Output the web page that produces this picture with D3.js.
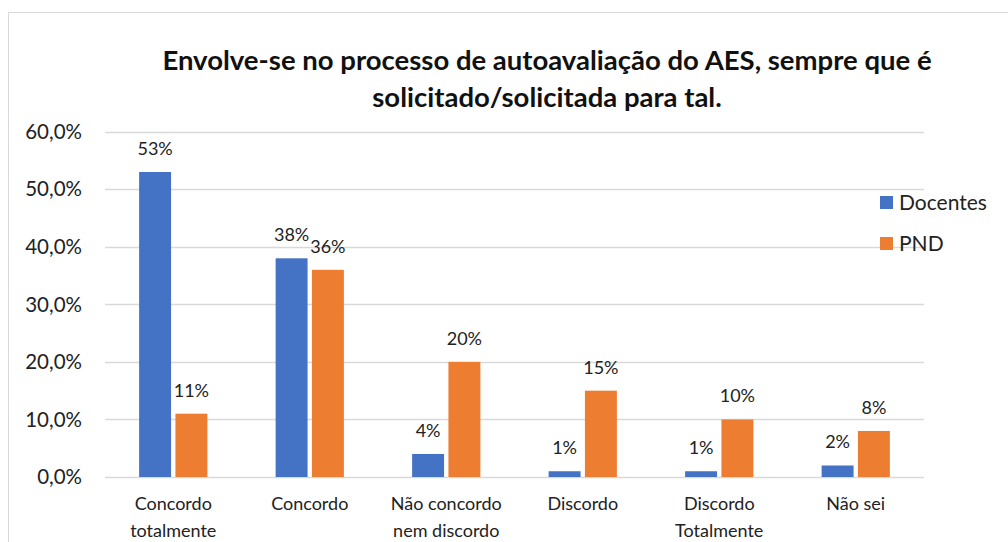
<!DOCTYPE html>
<html>
<head>
<meta charset="utf-8">
<script src="https://cdn.jsdelivr.net/npm/d3@7"></script>
<style>
  body { margin: 0; background: #fff; }
  svg { font-family: Lato, "Open Sans", sans-serif; }
</style>
</head>
<body>
<div id="chart"></div>
<script>
const categories = [
    ['Concordo', 'totalmente'],
    ['Concordo'],
    ['Não concordo', 'nem discordo'],
    ['Discordo'],
    ['Discordo', 'Totalmente'],
    ['Não sei']
]
const seriesNames = ['Docentes', 'PND']
const docentes = [53, 38, 4, 1, 1, 2]
const pnd = [11, 36, 20, 15, 10, 8]
const yTicks = [0, 10, 20, 30, 40, 50, 60]
const colors = ['#4472C4', '#ED7D31']

const width = 1008
const height = 542
const margin = { left: 105, right: 84, top: 131.7, bottom: 65 }

const svg = d3.select('#chart')
    .append('svg')
    .attr('width', width)
    .attr('height', height)

// chart frame
svg.append('rect')
    .attr('x', 8.5).attr('y', 12.5)
    .attr('width', 1100).attr('height', 600)
    .attr('fill', '#fff')
    .attr('stroke', '#d9d9d9')

const x = d3.scaleBand()
    .domain(d3.range(categories.length))
    .range([margin.left, width - margin.right])
    .paddingInner(0.5).paddingOuter(0.25)

const x1 = d3.scaleBand()
    .domain(seriesNames)
    .range([0, x.bandwidth()])
    .paddingInner(0.12)

const y = d3.scaleLinear()
    .domain([0, 60])
    .range([height - margin.bottom, margin.top])

// gridlines
svg.append('g')
    .selectAll('line')
    .data(yTicks)
    .enter()
    .append('line')
    .attr('x1', margin.left)
    .attr('x2', width - margin.right)
    .attr('y1', d => Math.round(y(d)) + 0.5)
    .attr('y2', d => Math.round(y(d)) + 0.5)
    .style('stroke', '#d9d9d9')
    .style('stroke-width', 1.5)

// y tick labels
svg.append('g')
    .selectAll('text')
    .data(yTicks)
    .enter()
    .append('text')
    .attr('x', 82)
    .attr('y', d => y(d))
    .attr('dy', '0.35em')
    .attr('text-anchor', 'end')
    .style('font-size', '20.5px')
    .style('fill', '#222')
    .text(d => d.toFixed(1).replace('.', ',') + '%')

const data = categories.map((c, i) => ({
    i,
    values: [
        { name: 'Docentes', value: docentes[i] },
        { name: 'PND', value: pnd[i] }
    ]
}))

const groups = svg.append('g')
    .selectAll('g')
    .data(data)
    .enter()
    .append('g')
    .attr('transform', d => `translate(${x(d.i)},0)`)

groups.selectAll('rect')
    .data(d => d.values)
    .enter()
    .append('rect')
    .attr('x', d => x1(d.name))
    .attr('width', x1.bandwidth())
    .attr('y', d => y(d.value))
    .attr('height', d => y(0) - y(d.value))
    .style('fill', (d, i) => colors[i])

groups.selectAll('text')
    .data(d => d.values)
    .enter()
    .append('text')
    .attr('x', d => x1(d.name) + x1.bandwidth() / 2)
    .attr('y', d => y(d.value) - 17)
    .attr('text-anchor', 'middle')
    .style('font-size', '18px')
    .style('fill', '#222')
    .text(d => d.value + '%')

// category labels
svg.append('g')
    .selectAll('text')
    .data(categories)
    .enter()
    .append('text')
    .attr('x', (d, i) => x(i) + x.bandwidth() / 2)
    .attr('y', 510)
    .attr('text-anchor', 'middle')
    .style('font-size', '18px')
    .style('fill', '#222')
    .selectAll('tspan')
    .data(d => d)
    .enter()
    .append('tspan')
    .attr('x', function () { return this.parentNode.getAttribute('x') })
    .attr('dy', (d, i) => i === 0 ? 0 : 27)
    .text(d => d)

// title
const title = svg.append('text')
    .attr('text-anchor', 'middle')
    .style('font-size', '27.5px')
    .style('font-weight', 'bold')
    .style('fill', '#111')
title.append('tspan').attr('x', 547).attr('y', 70)
    .text('Envolve-se no processo de autoavaliação do AES, sempre que é')
title.append('tspan').attr('x', 547).attr('y', 107)
    .text('solicitado/solicitada para tal.')

// legend
const legend = svg.append('g')
    .selectAll('g')
    .data(seriesNames)
    .enter()
    .append('g')
    .attr('transform', (d, i) => `translate(880,${196 + i * 41})`)
legend.append('rect')
    .attr('width', 13).attr('height', 13)
    .style('fill', (d, i) => colors[i])
legend.append('text')
    .attr('x', 19)
    .attr('y', 7)
    .attr('dy', '0.35em')
    .style('font-size', '21px')
    .style('fill', '#222')
    .text(d => d)
</script>
</body>
</html>
